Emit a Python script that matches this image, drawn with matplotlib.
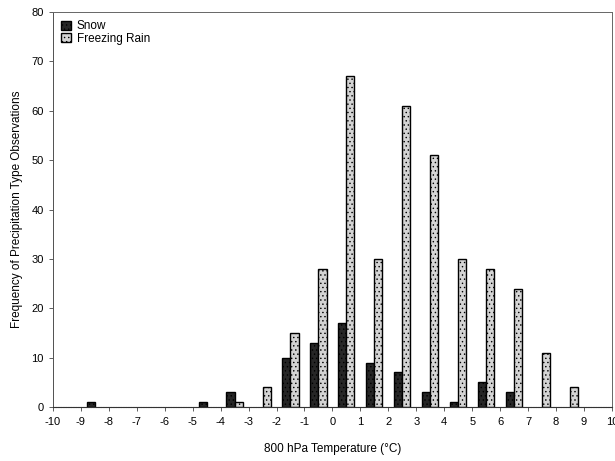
import matplotlib
matplotlib.use("Agg")
import matplotlib.pyplot as plt
import numpy as np

plt.rcParams['font.family'] = ['Liberation Sans', 'DejaVu Sans']

# 1-degree temperature bins (lower edge) at 800 hPa
bin_lower = [-9, -8, -7, -6, -5, -4, -3, -2, -1, 0, 1, 2, 3, 4, 5, 6, 7, 8]
snow =          [1, 0, 0, 0, 1, 3, 0, 10, 13, 17, 9, 7, 3, 1, 5, 3, 0, 0]
freezing_rain = [0, 0, 0, 0, 0, 1, 4, 15, 28, 67, 30, 61, 51, 30, 28, 24, 11, 4]
x_ticks = list(range(-10, 11))
y_ticks = list(range(0, 90, 10))

fig = plt.figure(figsize=(6.15, 4.61), dpi=100)
ax = fig.add_axes([0.086, 0.117, 0.909, 0.857])

centers = np.array(bin_lower) + 0.5
w = 0.29
plt.rcParams['hatch.color'] = '#555555'
plt.rcParams['hatch.linewidth'] = 0.5

snow_vals = np.array(snow)
fr_vals = np.array(freezing_rain)
m_s = snow_vals > 0
m_f = fr_vals > 0
ax.bar(centers[m_s] - w / 2, snow_vals[m_s], width=w, color='#262626',
       edgecolor='black', linewidth=1.0, hatch='....', label='Snow')
ax.bar(centers[m_f] + w / 2, fr_vals[m_f], width=w, color='#d4d4d4',
       edgecolor='black', linewidth=1.0, hatch='....', label='Freezing Rain')

ax.set_xlim(-10, 10)
ax.set_ylim(0, 80)
ax.set_xticks(x_ticks)
ax.set_xticklabels([str(t) for t in x_ticks])
ax.set_yticks(y_ticks)
ax.tick_params(axis='both', labelsize=8, length=3, width=0.6, color='#444444', direction='out')
ax.tick_params(axis='x', pad=4)

for side in ['top', 'right']:
    ax.spines[side].set_linestyle((0, (1, 1)))
    ax.spines[side].set_color('#666666')
    ax.spines[side].set_linewidth(0.7)
ax.spines['left'].set_color('#555555')
ax.spines['left'].set_linewidth(0.7)
ax.spines['left'].set_linestyle((0, (1, 0.5)))
ax.spines['bottom'].set_color('#333333')
ax.spines['bottom'].set_linewidth(0.8)
ax.spines['bottom'].set_linestyle((0, (1, 0.5)))

ax.set_xlabel('800 hPa Temperature (°C)', fontsize=8.5, labelpad=12)
ax.set_ylabel('Frequency of Precipitation Type Observations', fontsize=8.5, labelpad=6)

leg = ax.legend(loc='upper left', frameon=False, fontsize=8.5, handlelength=0.8,
                handleheight=0.8, handletextpad=0.5, labelspacing=0.05,
                borderaxespad=0.3)

fig.savefig('out.png', dpi=100)
